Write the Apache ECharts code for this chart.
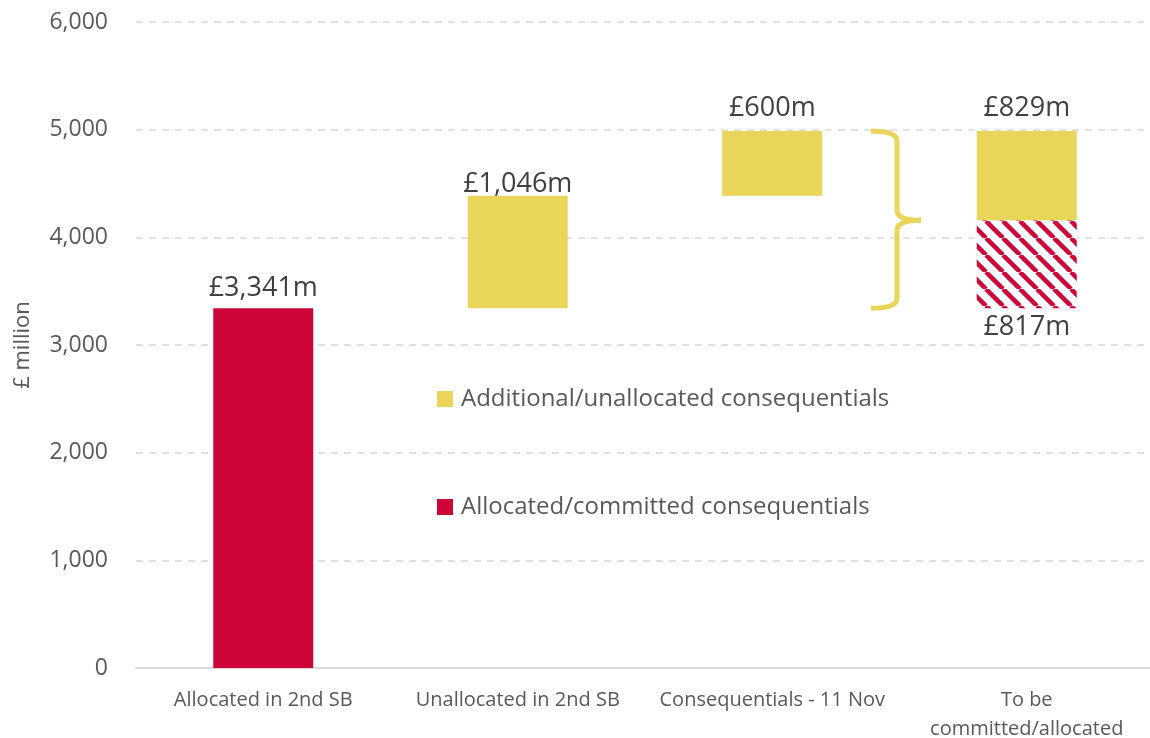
<!DOCTYPE html>
<html lang="en">
<head>
    <meta charset="UTF-8">
    <title>Consequentials</title>
    <script src="https://cdn.jsdelivr.net/npm/echarts@6.0.0/dist/echarts.min.js"></script>
    <style>
        html, body { margin: 0; padding: 0; background: #fff; }
        #chart { width: 1150px; height: 738px; }
    </style>
</head>
<body>
    <div id="chart"></div>
    <script>
        // data
        const categories = ['Allocated in 2nd SB', 'Unallocated in 2nd SB', 'Consequentials - 11 Nov', 'To be\ncommitted/allocated'];
        const baseValues = [0, 3341, 4387, 3341];
        const allocatedValues = [3341, '-', '-', '-'];
        const toCommitValues = ['-', '-', '-', 817];
        const additionalValues = ['-', 1046, 600, 829];
        const braceValues = [3341, 4158, 4987];

        const RED = '#CE0538';
        const YELLOW = '#E8D55A';
        const FONT = 'Open Sans';

        // hatched fill for the part still to be committed
        function makeHatch() {
            const size = 17;
            const c = document.createElement('canvas');
            c.width = size;
            c.height = size;
            const ctx = c.getContext('2d');
            ctx.fillStyle = '#fff';
            ctx.fillRect(0, 0, size, size);
            ctx.strokeStyle = RED;
            ctx.lineWidth = 4.5;
            for (let k = -1; k <= 1; k++) {
                ctx.beginPath();
                ctx.moveTo(k * size, 0);
                ctx.lineTo(k * size + size, size);
                ctx.stroke();
            }
            return c;
        }

        const money = v => '£' + Number(v).toLocaleString('en-US') + 'm';

        const labelStyle = {
            show: true,
            color: '#404040',
            fontSize: 27,
            fontFamily: FONT,
            formatter: p => money(p.value)
        };

        // label gap above the yellow blocks differs a little per column in the original
        const yellowLabelGap = [0, -2, 9, 9];
        const yellowData = additionalValues.map((v, i) =>
            v === '-' ? v : { value: v, label: { distance: yellowLabelGap[i] } });

        const chart = echarts.init(document.getElementById('chart'));
        chart.setOption({
            animation: false,
            textStyle: { fontFamily: FONT },
            grid: { left: 136, right: -4, top: 22, bottom: 70, outerBoundsMode: 'none' },
            legend: {
                data: ['Additional/unallocated consequentials', 'Allocated/committed consequentials'],
                orient: 'vertical',
                left: 437,
                top: 387,
                padding: 0,
                itemGap: 84,
                itemWidth: 16,
                itemHeight: 16,
                icon: 'rect',
                selectedMode: false,
                textStyle: { color: '#595959', fontSize: 24, fontFamily: FONT, padding: [0, 0, 0, 3] }
            },
            xAxis: {
                type: 'category',
                data: categories,
                axisLine: { lineStyle: { color: '#D9D9D9', width: 2 } },
                axisTick: { show: false },
                axisLabel: { color: '#595959', fontSize: 20, fontFamily: FONT, margin: 18, lineHeight: 29, interval: 0 }
            },
            yAxis: {
                type: 'value',
                min: 0,
                max: 6000,
                interval: 1000,
                name: '£ million',
                nameLocation: 'middle',
                nameRotate: 90,
                nameGap: 102,
                nameTextStyle: { color: '#595959', fontSize: 22, fontFamily: FONT },
                axisLine: { show: false },
                axisTick: { show: false },
                axisLabel: {
                    color: '#595959', fontSize: 23, fontFamily: FONT, margin: 28,
                    formatter: v => Number(v).toLocaleString('en-US')
                },
                splitLine: { lineStyle: { color: '#D9D9D9', width: 1.5, type: [7, 6] } }
            },
            series: [
                {
                    name: 'base',
                    type: 'bar',
                    stack: 'total',
                    barWidth: 100,
                    silent: true,
                    itemStyle: { color: 'transparent' },
                    data: baseValues
                },
                {
                    name: 'Allocated/committed consequentials',
                    type: 'bar',
                    stack: 'total',
                    barWidth: 100,
                    itemStyle: { color: RED },
                    label: Object.assign({ position: 'top', distance: 6 }, labelStyle),
                    data: allocatedValues
                },
                {
                    name: 'To be committed',
                    type: 'bar',
                    stack: 'total',
                    barWidth: 100,
                    itemStyle: { color: { image: makeHatch(), repeat: 'repeat' } },
                    label: Object.assign({ position: 'bottom', distance: 6 }, labelStyle),
                    data: toCommitValues
                },
                {
                    name: 'Additional/unallocated consequentials',
                    type: 'bar',
                    stack: 'total',
                    barWidth: 100,
                    itemStyle: { color: YELLOW },
                    label: Object.assign({ position: 'top', distance: 6 }, labelStyle),
                    data: yellowData
                },
                {
                    // curly brace grouping the yellow bars against the last column
                    name: 'brace',
                    type: 'custom',
                    silent: true,
                    clip: false,
                    encode: { x: 0, y: [1, 2, 3] },
                    data: [[2].concat(braceValues)],
                    renderItem: function (params, api) {
                        const a = api.coord([2, api.value(1)]);
                        const b = api.coord([3, api.value(1)]);
                        const x = a[0] + (b[0] - a[0]) * 0.49;
                        const bot = api.coord([2, api.value(1)])[1];
                        const mid = api.coord([2, api.value(2)])[1];
                        const top = api.coord([2, api.value(3)])[1];
                        const st = { stroke: YELLOW, lineWidth: 5, fill: null, lineCap: 'butt' };
                        const r = 10;
                        return {
                            type: 'group',
                            children: [
                                { type: 'bezierCurve', shape: { x1: x - 26, y1: top, cpx1: x, cpy1: top, x2: x, y2: top + r }, style: st },
                                { type: 'line', shape: { x1: x, y1: top + r, x2: x, y2: mid - r }, style: st },
                                { type: 'bezierCurve', shape: { x1: x, y1: mid - r, cpx1: x, cpy1: mid, x2: x + 24, y2: mid }, style: st },
                                { type: 'bezierCurve', shape: { x1: x + 24, y1: mid, cpx1: x, cpy1: mid, x2: x, y2: mid + r }, style: st },
                                { type: 'line', shape: { x1: x, y1: mid + r, x2: x, y2: bot - r }, style: st },
                                { type: 'bezierCurve', shape: { x1: x, y1: bot - r, cpx1: x, cpy1: bot, x2: x - 26, y2: bot }, style: st }
                            ]
                        };
                    }
                }
            ]
        });
    </script>
</body>
</html>
